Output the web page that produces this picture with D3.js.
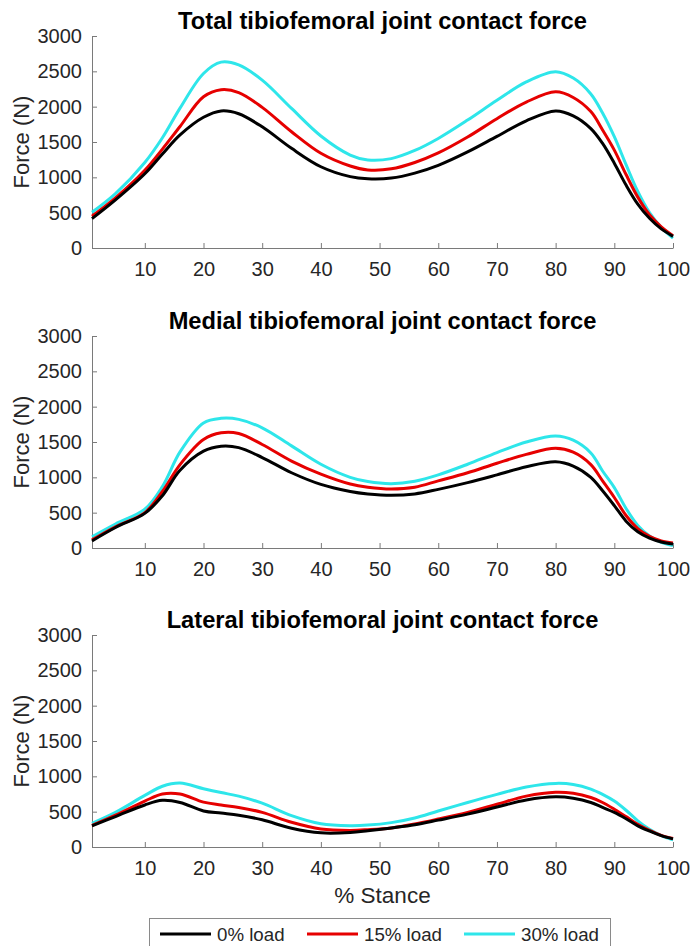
<!DOCTYPE html>
<html>
<head>
<meta charset="utf-8">
<script src="https://cdn.jsdelivr.net/npm/d3@7"></script>
<style>
  body { margin: 0; background: #fff; }
  text { font-family: "Liberation Sans", Arial, sans-serif; }
</style>
</head>
<body>
<script>
//data (% stance vs force in N)
var stance = [1, 5, 10, 13, 16, 20, 23, 26, 30, 35, 40, 45, 48, 52, 56, 60, 65, 70, 75, 80, 83, 86, 88, 90, 92, 94, 96, 98, 100];

var totalLoad0  = [415, 680, 1050, 1330, 1600, 1850, 1940, 1900, 1715, 1410, 1150, 1010, 980, 990, 1060, 1170, 1360, 1580, 1800, 1940, 1870, 1690, 1480, 1200, 890, 620, 420, 270, 165];
var totalLoad15 = [450, 710, 1100, 1400, 1720, 2140, 2240, 2200, 1990, 1645, 1340, 1160, 1105, 1120, 1210, 1345, 1570, 1830, 2065, 2210, 2130, 1930, 1670, 1385, 1040, 720, 470, 300, 175];
var totalLoad30 = [505, 770, 1210, 1560, 1980, 2470, 2630, 2590, 2375, 1975, 1585, 1315, 1245, 1265, 1380, 1550, 1810, 2090, 2350, 2495, 2405, 2180, 1910, 1575, 1180, 800, 500, 290, 140];

var medialLoad0  = [100, 290, 490, 740, 1100, 1370, 1440, 1420, 1280, 1065, 900, 800, 765, 745, 765, 830, 925, 1035, 1150, 1220, 1160, 1000, 810, 600, 380, 230, 140, 85, 55];
var medialLoad15 = [115, 300, 500, 800, 1180, 1535, 1630, 1620, 1465, 1230, 1045, 905, 860, 835, 860, 950, 1065, 1200, 1325, 1410, 1355, 1180, 950, 715, 460, 275, 165, 100, 70];
var medialLoad30 = [160, 340, 550, 870, 1360, 1770, 1835, 1820, 1700, 1445, 1185, 1000, 940, 910, 945, 1035, 1185, 1350, 1500, 1585, 1525, 1345, 1090, 855, 560, 320, 170, 80, 35];

var lateralLoad0  = [300, 430, 595, 660, 630, 510, 480, 450, 385, 265, 200, 205, 230, 270, 315, 380, 465, 565, 665, 710, 690, 630, 560, 490, 400, 300, 225, 160, 115];
var lateralLoad15 = [305, 450, 650, 750, 750, 635, 595, 560, 490, 350, 255, 235, 245, 270, 325, 395, 490, 605, 720, 775, 760, 700, 630, 535, 430, 320, 235, 165, 120];
var lateralLoad30 = [335, 490, 730, 860, 905, 825, 770, 720, 620, 445, 330, 302, 310, 345, 410, 510, 630, 745, 850, 900, 885, 820, 745, 650, 520, 370, 250, 160, 100];

var panelTitles = ["Total tibiofemoral joint contact force",
                   "Medial tibiofemoral joint contact force",
                   "Lateral tibiofemoral joint contact force"];
var seriesNames = ["0% load", "15% load", "30% load"];
var seriesColors = ["#000000", "#e60000", "#2ee6ea"];
var xTicks = [10, 20, 30, 40, 50, 60, 70, 80, 90, 100];
var yTicks = [0, 500, 1000, 1500, 2000, 2500, 3000];

var panelData = [[totalLoad0, totalLoad15, totalLoad30],
                 [medialLoad0, medialLoad15, medialLoad30],
                 [lateralLoad0, lateralLoad15, lateralLoad30]];

//setting the width and height
var width = 693,
    height = 946;

var left = 92, right = 673, panelH = 212;
var panelBottoms = [248, 548, 847];

var svg = d3.select("body").append("svg")
    .attr("width", width)
    .attr("height", height);

var x = d3.scaleLinear().domain([1, 100]).range([left, right]);

panelData.forEach(function(series, p) {
  var bottom = panelBottoms[p];
  var y = d3.scaleLinear().domain([0, 3000]).range([bottom, bottom - panelH]);

  var g = svg.append("g");

  //x axis, ticks pointing inward
  var xa = g.append("g")
      .attr("transform", "translate(0," + bottom + ")")
      .call(d3.axisBottom(x).tickValues(xTicks).tickFormat(d3.format("d"))
            .tickSize(-5).tickSizeOuter(0).tickPadding(14));

  //y axis
  var ya = g.append("g")
      .attr("transform", "translate(" + left + ",0)")
      .call(d3.axisLeft(y).tickValues(yTicks).tickFormat(d3.format("d"))
            .tickSize(-5).tickSizeOuter(0).tickPadding(10));

  [xa, ya].forEach(function(a) {
    a.select(".domain").attr("stroke", "#7a7a7a").attr("stroke-width", 1);
    a.selectAll(".tick line").attr("stroke", "#7a7a7a");
    a.selectAll(".tick text")
      .attr("fill", "#262626")
      .style("font-size", "20px")
      .style("font-family", "'Liberation Sans', Arial, sans-serif");
  });

  //y label
  g.append("text")
    .attr("transform", "translate(29," + (bottom - panelH / 2) + ") rotate(-90)")
    .attr("text-anchor", "middle")
    .style("font-size", "22px")
    .attr("fill", "#262626")
    .text("Force (N)");

  //title
  g.append("text")
    .attr("x", (left + right) / 2)
    .attr("y", bottom - panelH - 7)
    .attr("text-anchor", "middle")
    .style("font-size", "23.7px")
    .style("font-weight", "bold")
    .attr("fill", "#000")
    .text(panelTitles[p]);

  var line = d3.line()
      .x(function(d, i) { return x(stance[i]); })
      .y(function(d) { return y(d); })
      .curve(d3.curveCatmullRom.alpha(0.5));

  //draw the curves, heaviest load first so 0% sits on top
  [2, 1, 0].forEach(function(s) {
    g.append("path")
      .datum(series[s])
      .attr("fill", "none")
      .attr("stroke", seriesColors[s])
      .attr("stroke-width", 3)
      .attr("stroke-linejoin", "round")
      .attr("d", line);
  });
});

//x axis label
svg.append("text")
  .attr("x", (left + right) / 2)
  .attr("y", 903)
  .attr("text-anchor", "middle")
  .style("font-size", "22.5px")
  .attr("fill", "#262626")
  .text("% Stance");

//legend
var legend = svg.append("g");
legend.append("rect")
  .attr("x", 149.5).attr("y", 918.5)
  .attr("width", 461).attr("height", 40)
  .attr("fill", "#fff")
  .attr("stroke", "#8a8a8a");

var legendX = [160, 307, 464];
seriesNames.forEach(function(name, i) {
  legend.append("line")
    .attr("x1", legendX[i]).attr("x2", legendX[i] + 51)
    .attr("y1", 934).attr("y2", 934)
    .attr("stroke", seriesColors[i])
    .attr("stroke-width", 3);
  legend.append("text")
    .attr("x", legendX[i] + 57)
    .attr("y", 941)
    .style("font-size", "18.7px")
    .attr("fill", "#262626")
    .text(name);
});
</script>
</body>
</html>
